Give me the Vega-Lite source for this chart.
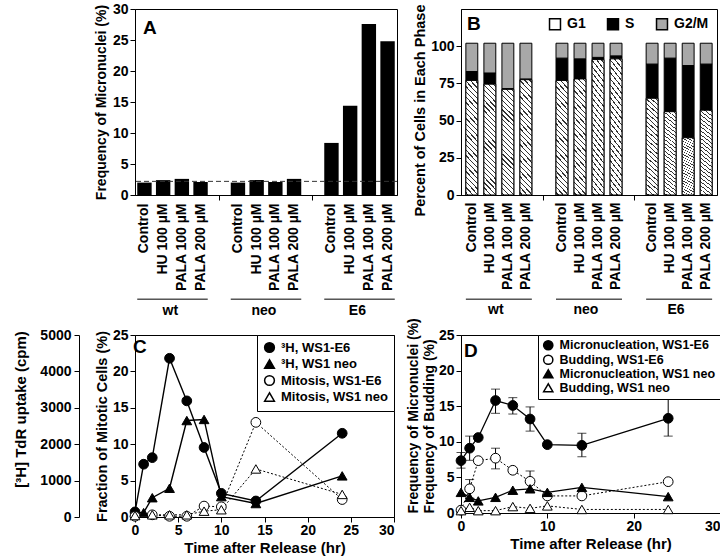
{
  "$schema": "https://vega.github.io/schema/vega-lite/v6.json",
  "background": "white",
  "padding": {"left": 13, "top": 1, "right": 0, "bottom": 0},
  "config": {
    "font": "Liberation Sans",
    "view": {"stroke": "black", "strokeWidth": 1},
    "axis": {"grid": false, "labelOverlap": false, "domainColor": "black", "tickColor": "black", "labelColor": "black", "titleColor": "black", "labelFont": "Liberation Sans", "titleFont": "Liberation Sans", "labelFontWeight": "bold", "titleFontWeight": "bold", "labelFontSize": 14, "titleFontSize": 14.5, "tickSize": 5, "labelPadding": 2},
    "legend": {"labelFont": "Liberation Sans", "labelFontWeight": "bold", "labelColor": "black"},
    "title": {"font": "Liberation Sans", "fontWeight": "bold", "fontSize": 19, "color": "black", "anchor": "start", "frame": "group"}
  },
  "datasets": {
    "phases": [
      {"cat": "wt|Control", "phase": "G1", "pct": 77}, {"cat": "wt|Control", "phase": "S", "pct": 6}, {"cat": "wt|Control", "phase": "G2/M", "pct": 19},
      {"cat": "wt|HU 100 µM", "phase": "G1", "pct": 74.5}, {"cat": "wt|HU 100 µM", "phase": "S", "pct": 7.5}, {"cat": "wt|HU 100 µM", "phase": "G2/M", "pct": 20},
      {"cat": "wt|PALA 100 µM", "phase": "G1", "pct": 71}, {"cat": "wt|PALA 100 µM", "phase": "S", "pct": 0.5}, {"cat": "wt|PALA 100 µM", "phase": "G2/M", "pct": 30.5},
      {"cat": "wt|PALA 200 µM", "phase": "G1", "pct": 77.5}, {"cat": "wt|PALA 200 µM", "phase": "S", "pct": 0.5}, {"cat": "wt|PALA 200 µM", "phase": "G2/M", "pct": 24},
      {"cat": "neo|Control", "phase": "G1", "pct": 77}, {"cat": "neo|Control", "phase": "S", "pct": 15}, {"cat": "neo|Control", "phase": "G2/M", "pct": 10},
      {"cat": "neo|HU 100 µM", "phase": "G1", "pct": 78}, {"cat": "neo|HU 100 µM", "phase": "S", "pct": 13.5}, {"cat": "neo|HU 100 µM", "phase": "G2/M", "pct": 10.5},
      {"cat": "neo|PALA 100 µM", "phase": "G1", "pct": 91}, {"cat": "neo|PALA 100 µM", "phase": "S", "pct": 1.5}, {"cat": "neo|PALA 100 µM", "phase": "G2/M", "pct": 9.5},
      {"cat": "neo|PALA 200 µM", "phase": "G1", "pct": 91.5}, {"cat": "neo|PALA 200 µM", "phase": "S", "pct": 2}, {"cat": "neo|PALA 200 µM", "phase": "G2/M", "pct": 8.5},
      {"cat": "E6|Control", "phase": "G1", "pct": 65}, {"cat": "E6|Control", "phase": "S", "pct": 23}, {"cat": "E6|Control", "phase": "G2/M", "pct": 14},
      {"cat": "E6|HU 100 µM", "phase": "G1", "pct": 56}, {"cat": "E6|HU 100 µM", "phase": "S", "pct": 36}, {"cat": "E6|HU 100 µM", "phase": "G2/M", "pct": 10},
      {"cat": "E6|PALA 100 µM", "phase": "G1", "pct": 38.5}, {"cat": "E6|PALA 100 µM", "phase": "S", "pct": 48.5}, {"cat": "E6|PALA 100 µM", "phase": "G2/M", "pct": 15},
      {"cat": "E6|PALA 200 µM", "phase": "G1", "pct": 57}, {"cat": "E6|PALA 200 µM", "phase": "S", "pct": 31}, {"cat": "E6|PALA 200 µM", "phase": "G2/M", "pct": 14}
    ],
    "groups": [
      {"group": "wt", "first": "wt|Control", "mid": "wt|HU 100 µM", "last": "wt|PALA 200 µM"},
      {"group": "neo", "first": "neo|Control", "mid": "neo|HU 100 µM", "last": "neo|PALA 200 µM"},
      {"group": "E6", "first": "E6|Control", "mid": "E6|HU 100 µM", "last": "E6|PALA 200 µM"}
    ]
  },
  "columns": 2,
  "bounds": "flush",
  "spacing": {"row": 140, "column": 64},
  "resolve": {
    "scale": {"fill": "independent", "shape": "independent", "x": "independent", "y": "independent"},
    "legend": {"fill": "independent", "shape": "independent"}
  },
  "concat": [
    {
      "width": 262, "height": 186,
      "title": {"text": "A", "offset": -36, "dx": 8},
      "layer": [
        {
          "data": {"values": [
            {"group": "wt", "cat": "wt|Control", "value": 2.0},
            {"group": "wt", "cat": "wt|HU 100 µM", "value": 2.4},
            {"group": "wt", "cat": "wt|PALA 100 µM", "value": 2.6},
            {"group": "wt", "cat": "wt|PALA 200 µM", "value": 2.1},
            {"group": "neo", "cat": "neo|Control", "value": 2.0},
            {"group": "neo", "cat": "neo|HU 100 µM", "value": 2.4},
            {"group": "neo", "cat": "neo|PALA 100 µM", "value": 2.1},
            {"group": "neo", "cat": "neo|PALA 200 µM", "value": 2.6},
            {"group": "E6", "cat": "E6|Control", "value": 8.4},
            {"group": "E6", "cat": "E6|HU 100 µM", "value": 14.4},
            {"group": "E6", "cat": "E6|PALA 100 µM", "value": 27.6},
            {"group": "E6", "cat": "E6|PALA 200 µM", "value": 24.8}
          ]},
          "mark": {"type": "bar", "color": "black"},
          "encoding": {
            "x": {"field": "cat", "type": "nominal", "title": null,
              "scale": {"domain": ["wt|Control", "wt|HU 100 µM", "wt|PALA 100 µM", "wt|PALA 200 µM", "gap1", "neo|Control", "neo|HU 100 µM", "neo|PALA 100 µM", "neo|PALA 200 µM", "gap2", "E6|Control", "E6|HU 100 µM", "E6|PALA 100 µM", "E6|PALA 200 µM"], "paddingInner": 0.23, "paddingOuter": 0.12},
              "axis": {"labelAngle": 270, "labelPadding": 3, "labelExpr": "indexof(datum.value, 'gap') === 0 ? '' : split(datum.value, '|')[1]", "tickOpacity": {"condition": {"test": "indexof(datum.value, 'gap') === 0", "value": 1}, "value": 0}}},
            "y": {"field": "value", "type": "quantitative", "scale": {"domain": [0, 30], "nice": false},
              "axis": {"values": [0, 5, 10, 15, 20, 25, 30], "tickCount": 20, "labelOverlap": false, "title": "Frequency of Micronuclei (%)", "titleFontSize": 14, "titlePadding": 4}}
          }
        },
        {
          "data": {"values": [{}]},
          "mark": {"type": "rule", "strokeDash": [5, 3], "color": "#333", "strokeWidth": 1},
          "encoding": {"y": {"datum": 2.2}}
        },
        {
          "data": {"name": "groups"},
          "layer": [
            {
              "mark": {"type": "rule", "color": "black", "strokeWidth": 1},
              "encoding": {
                "x": {"field": "first", "type": "nominal", "bandPosition": 0},
                "x2": {"field": "last", "bandPosition": 1},
                "y": {"datum": -16.8}
              }
            },
            {
              "mark": {"type": "text", "fontSize": 14, "fontWeight": "bold", "baseline": "middle", "color": "black"},
              "encoding": {
                "x": {"field": "mid", "type": "nominal", "bandPosition": 1},
                "y": {"datum": -18.7},
                "text": {"field": "group"}
              }
            }
          ]
        }
      ]
    },
    {
      "width": 256, "height": 186,
      "title": {"text": "B", "offset": -30, "dx": 6},
      "layer": [
        {
          "data": {"name": "phases"},
          "transform": [{"calculate": "indexof(['G1', 'S', 'G2/M'], datum.phase)", "as": "ord"}],
          "mark": {"type": "bar", "stroke": "black", "strokeWidth": 1},
          "encoding": {
            "x": {"field": "cat", "type": "nominal", "title": null,
              "scale": {"domain": ["wt|Control", "wt|HU 100 µM", "wt|PALA 100 µM", "wt|PALA 200 µM", "gap1", "neo|Control", "neo|HU 100 µM", "neo|PALA 100 µM", "neo|PALA 200 µM", "gap2", "E6|Control", "E6|HU 100 µM", "E6|PALA 100 µM", "E6|PALA 200 µM"], "paddingInner": 0.34, "paddingOuter": 0.27},
              "axis": {"labelAngle": 270, "labelPadding": 2, "labelExpr": "indexof(datum.value, 'gap') === 0 ? '' : split(datum.value, '|')[1]", "tickOpacity": {"condition": {"test": "indexof(datum.value, 'gap') === 0", "value": 1}, "value": 0}}},
            "y": {"field": "pct", "type": "quantitative", "stack": "zero", "scale": {"domain": [0, 125], "nice": false},
              "axis": {"values": [0, 25, 50, 75, 100], "tickCount": 20, "labelOverlap": false, "title": "Percent of Cells in Each Phase", "titleFontSize": 14.5, "titleY": 101, "titlePadding": 3}},
            "fill": {"field": "phase", "type": "nominal",
              "scale": {"domain": ["G1", "S", "G2/M"], "range": ["white", "black", "#a8a8a8"]},
              "legend": {"title": null, "orient": "top-right", "direction": "horizontal", "offset": 8, "symbolType": "square", "symbolSize": 120, "labelFontSize": 14, "labelOffset": 5, "columnPadding": 18,
                "encode": {"symbols": {"update": {"stroke": {"value": "black"}, "strokeWidth": {"value": 1}}}}}},
            "order": {"field": "ord", "type": "quantitative"}
          }
        },
        {
          "data": {"name": "phases"},
          "transform": [{"filter": "datum.phase === 'G1'"}],
          "mark": {"type": "bar", "stroke": "black", "strokeWidth": 1,
            "fill": {"gradient": "linear", "x1": 0, "y1": 1, "x2": 0.122, "y2": -0.0976, "stops": [
              {"offset": 0, "color": "white"},
              {"offset": 0.0146, "color": "white"}, {"offset": 0.0146, "color": "#333"}, {"offset": 0.0250, "color": "#333"}, {"offset": 0.0250, "color": "white"},
              {"offset": 0.0563, "color": "white"}, {"offset": 0.0563, "color": "#333"}, {"offset": 0.0667, "color": "#333"}, {"offset": 0.0667, "color": "white"},
              {"offset": 0.0979, "color": "white"}, {"offset": 0.0979, "color": "#333"}, {"offset": 0.1083, "color": "#333"}, {"offset": 0.1083, "color": "white"},
              {"offset": 0.1396, "color": "white"}, {"offset": 0.1396, "color": "#333"}, {"offset": 0.1500, "color": "#333"}, {"offset": 0.1500, "color": "white"},
              {"offset": 0.1813, "color": "white"}, {"offset": 0.1813, "color": "#333"}, {"offset": 0.1917, "color": "#333"}, {"offset": 0.1917, "color": "white"},
              {"offset": 0.2229, "color": "white"}, {"offset": 0.2229, "color": "#333"}, {"offset": 0.2333, "color": "#333"}, {"offset": 0.2333, "color": "white"},
              {"offset": 0.2646, "color": "white"}, {"offset": 0.2646, "color": "#333"}, {"offset": 0.2750, "color": "#333"}, {"offset": 0.2750, "color": "white"},
              {"offset": 0.3063, "color": "white"}, {"offset": 0.3063, "color": "#333"}, {"offset": 0.3167, "color": "#333"}, {"offset": 0.3167, "color": "white"},
              {"offset": 0.3479, "color": "white"}, {"offset": 0.3479, "color": "#333"}, {"offset": 0.3583, "color": "#333"}, {"offset": 0.3583, "color": "white"},
              {"offset": 0.3896, "color": "white"}, {"offset": 0.3896, "color": "#333"}, {"offset": 0.4000, "color": "#333"}, {"offset": 0.4000, "color": "white"},
              {"offset": 0.4313, "color": "white"}, {"offset": 0.4313, "color": "#333"}, {"offset": 0.4417, "color": "#333"}, {"offset": 0.4417, "color": "white"},
              {"offset": 0.4729, "color": "white"}, {"offset": 0.4729, "color": "#333"}, {"offset": 0.4833, "color": "#333"}, {"offset": 0.4833, "color": "white"},
              {"offset": 0.5146, "color": "white"}, {"offset": 0.5146, "color": "#333"}, {"offset": 0.5250, "color": "#333"}, {"offset": 0.5250, "color": "white"},
              {"offset": 0.5563, "color": "white"}, {"offset": 0.5563, "color": "#333"}, {"offset": 0.5667, "color": "#333"}, {"offset": 0.5667, "color": "white"},
              {"offset": 0.5979, "color": "white"}, {"offset": 0.5979, "color": "#333"}, {"offset": 0.6083, "color": "#333"}, {"offset": 0.6083, "color": "white"},
              {"offset": 0.6396, "color": "white"}, {"offset": 0.6396, "color": "#333"}, {"offset": 0.6500, "color": "#333"}, {"offset": 0.6500, "color": "white"},
              {"offset": 0.6813, "color": "white"}, {"offset": 0.6813, "color": "#333"}, {"offset": 0.6917, "color": "#333"}, {"offset": 0.6917, "color": "white"},
              {"offset": 0.7229, "color": "white"}, {"offset": 0.7229, "color": "#333"}, {"offset": 0.7333, "color": "#333"}, {"offset": 0.7333, "color": "white"},
              {"offset": 0.7646, "color": "white"}, {"offset": 0.7646, "color": "#333"}, {"offset": 0.7750, "color": "#333"}, {"offset": 0.7750, "color": "white"},
              {"offset": 0.8063, "color": "white"}, {"offset": 0.8063, "color": "#333"}, {"offset": 0.8167, "color": "#333"}, {"offset": 0.8167, "color": "white"},
              {"offset": 0.8479, "color": "white"}, {"offset": 0.8479, "color": "#333"}, {"offset": 0.8583, "color": "#333"}, {"offset": 0.8583, "color": "white"},
              {"offset": 0.8896, "color": "white"}, {"offset": 0.8896, "color": "#333"}, {"offset": 0.9000, "color": "#333"}, {"offset": 0.9000, "color": "white"},
              {"offset": 0.9313, "color": "white"}, {"offset": 0.9313, "color": "#333"}, {"offset": 0.9417, "color": "#333"}, {"offset": 0.9417, "color": "white"},
              {"offset": 0.9729, "color": "white"}, {"offset": 0.9729, "color": "#333"}, {"offset": 0.9833, "color": "#333"}, {"offset": 0.9833, "color": "white"},
              {"offset": 1, "color": "white"}
            ]}},
          "encoding": {
            "x": {"field": "cat", "type": "nominal"},
            "y": {"field": "pct", "type": "quantitative", "stack": null}
          }
        },
        {
          "data": {"name": "groups"},
          "layer": [
            {
              "mark": {"type": "rule", "color": "black", "strokeWidth": 1},
              "encoding": {
                "x": {"field": "first", "type": "nominal", "bandPosition": 0},
                "x2": {"field": "last", "bandPosition": 1},
                "y": {"datum": -70}
              }
            },
            {
              "mark": {"type": "text", "fontSize": 14, "fontWeight": "bold", "baseline": "middle", "color": "black"},
              "encoding": {
                "x": {"field": "mid", "type": "nominal", "bandPosition": 1},
                "y": {"datum": -77},
                "text": {"field": "group"}
              }
            }
          ]
        }
      ]
    },
    {
      "width": 259, "height": 182,
      "title": {"text": "C", "offset": -29, "dx": -2},
      "layer": [
        {
          "data": {"values": [
            {"series": "³H, WS1-E6", "t": 0, "cpm": 140},
            {"series": "³H, WS1-E6", "t": 1, "cpm": 1450},
            {"series": "³H, WS1-E6", "t": 2, "cpm": 1630},
            {"series": "³H, WS1-E6", "t": 4, "cpm": 4360},
            {"series": "³H, WS1-E6", "t": 6, "cpm": 3190},
            {"series": "³H, WS1-E6", "t": 8, "cpm": 1910},
            {"series": "³H, WS1-E6", "t": 10, "cpm": 650},
            {"series": "³H, WS1-E6", "t": 14, "cpm": 440},
            {"series": "³H, WS1-E6", "t": 24, "cpm": 2300},
            {"series": "³H, WS1 neo", "t": 0, "cpm": 120},
            {"series": "³H, WS1 neo", "t": 1, "cpm": 120},
            {"series": "³H, WS1 neo", "t": 2, "cpm": 530},
            {"series": "³H, WS1 neo", "t": 4, "cpm": 790},
            {"series": "³H, WS1 neo", "t": 6, "cpm": 2650},
            {"series": "³H, WS1 neo", "t": 8, "cpm": 2680},
            {"series": "³H, WS1 neo", "t": 10, "cpm": 560},
            {"series": "³H, WS1 neo", "t": 14, "cpm": 370},
            {"series": "³H, WS1 neo", "t": 24, "cpm": 1130}
          ]},
          "layer": [
            {
              "mark": {"type": "line", "color": "black", "strokeWidth": 1.4},
              "encoding": {
                "x": {"field": "t", "type": "quantitative"},
                "y": {"field": "cpm", "type": "quantitative"},
                "detail": {"field": "series"}
              }
            },
            {
              "mark": {"type": "point", "filled": true, "stroke": "black", "strokeWidth": 1, "size": 95, "opacity": 1},
              "encoding": {
                "x": {"field": "t", "type": "quantitative", "title": "Time after Release (hr)", "scale": {"domain": [0, 30], "nice": false},
                  "axis": {"values": [0, 5, 10, 15, 20, 25, 30], "tickCount": 20, "labelPadding": 1, "titlePadding": 3, "titleFontSize": 15, "labelAlign": {"condition": {"test": "datum.value === 30", "value": "right"}, "value": "center"}}},
                "y": {"field": "cpm", "type": "quantitative", "scale": {"domain": [0, 5000], "nice": false},
                  "axis": {"orient": "left", "offset": 56, "format": "d", "values": [0, 1000, 2000, 3000, 4000, 5000], "tickCount": 20, "labelOverlap": false, "labelPadding": 3, "title": "[³H] TdR uptake (cpm)", "titleY": 74, "titlePadding": 11, "titleFontSize": 15}},
                "shape": {"field": "series", "type": "nominal",
                  "scale": {"domain": ["³H, WS1-E6", "³H, WS1 neo", "Mitosis, WS1-E6", "Mitosis, WS1 neo"], "range": ["circle", "triangle-up", "circle", "triangle-up"]},
                  "legend": {"title": null, "orient": "top-right", "offset": 0, "strokeColor": "black", "fillColor": "white", "padding": 6, "labelFontSize": 13, "symbolSize": 95, "rowPadding": 0.5, "labelOffset": 5,
                    "encode": {"symbols": {"update": {"stroke": {"value": "black"}, "strokeWidth": {"value": 1}}}}}},
                "fill": {"field": "series", "type": "nominal",
                  "scale": {"domain": ["³H, WS1-E6", "³H, WS1 neo", "Mitosis, WS1-E6", "Mitosis, WS1 neo"], "range": ["black", "black", "white", "white"]},
                  "legend": {"title": null, "orient": "top-right", "offset": 0, "strokeColor": "black", "fillColor": "white", "padding": 6, "labelFontSize": 13, "symbolSize": 95, "rowPadding": 0.5, "labelOffset": 5,
                    "encode": {"symbols": {"update": {"stroke": {"value": "black"}, "strokeWidth": {"value": 1}}}}}}
              }
            }
          ]
        },
        {
          "data": {"values": [
            {"series": "Mitosis, WS1-E6", "t": 0, "pct": 0.1},
            {"series": "Mitosis, WS1-E6", "t": 2, "pct": 0.3},
            {"series": "Mitosis, WS1-E6", "t": 4, "pct": 0.1},
            {"series": "Mitosis, WS1-E6", "t": 6, "pct": 0.1},
            {"series": "Mitosis, WS1-E6", "t": 8, "pct": 1.5},
            {"series": "Mitosis, WS1-E6", "t": 10, "pct": 1.4},
            {"series": "Mitosis, WS1-E6", "t": 14, "pct": 13.0},
            {"series": "Mitosis, WS1-E6", "t": 24, "pct": 2.4},
            {"series": "Mitosis, WS1 neo", "t": 0, "pct": 0.2},
            {"series": "Mitosis, WS1 neo", "t": 2, "pct": 0.3},
            {"series": "Mitosis, WS1 neo", "t": 4, "pct": 0.3},
            {"series": "Mitosis, WS1 neo", "t": 6, "pct": 0.3},
            {"series": "Mitosis, WS1 neo", "t": 8, "pct": 0.8},
            {"series": "Mitosis, WS1 neo", "t": 10, "pct": 1.0},
            {"series": "Mitosis, WS1 neo", "t": 14, "pct": 6.6},
            {"series": "Mitosis, WS1 neo", "t": 24, "pct": 3.1}
          ]},
          "layer": [
            {
              "mark": {"type": "line", "color": "black", "strokeWidth": 1, "strokeDash": [2, 2]},
              "encoding": {
                "x": {"field": "t", "type": "quantitative"},
                "y": {"field": "pct", "type": "quantitative"},
                "detail": {"field": "series"}
              }
            },
            {
              "mark": {"type": "point", "filled": true, "stroke": "black", "strokeWidth": 1, "size": 95, "opacity": 1},
              "encoding": {
                "x": {"field": "t", "type": "quantitative"},
                "y": {"field": "pct", "type": "quantitative", "scale": {"domain": [0, 25], "nice": false},
                  "axis": {"orient": "left", "values": [0, 5, 10, 15, 20, 25], "tickCount": 20, "labelOverlap": false, "title": "Fraction of Mitotic Cells (%)", "titlePadding": 3, "titleFontSize": 14.5}},
                "shape": {"field": "series", "type": "nominal"},
                "fill": {"field": "series", "type": "nominal"}
              }
            }
          ]
        }
      ],
      "resolve": {"scale": {"y": "independent"}, "axis": {"y": "independent"}}
    },
    {
      "width": 259, "height": 178,
      "title": {"text": "D", "offset": -43, "dx": 3},
      "layer": [
        {
          "data": {"values": [
            {"series": "Micronucleation, WS1-E6", "t": 0, "lo": 6.3, "hi": 8.5},
            {"series": "Micronucleation, WS1-E6", "t": 1, "lo": 7.4, "hi": 10.8},
            {"series": "Micronucleation, WS1-E6", "t": 4, "lo": 14.0, "hi": 17.4},
            {"series": "Micronucleation, WS1-E6", "t": 6, "lo": 13.9, "hi": 16.2},
            {"series": "Micronucleation, WS1-E6", "t": 8, "lo": 11.5, "hi": 14.9},
            {"series": "Micronucleation, WS1-E6", "t": 14, "lo": 7.9, "hi": 11.2},
            {"series": "Micronucleation, WS1-E6", "t": 24, "lo": 10.8, "hi": 16.0},
            {"series": "Budding, WS1-E6", "t": 1, "lo": 2.1, "hi": 4.7},
            {"series": "Budding, WS1-E6", "t": 4, "lo": 6.2, "hi": 9.1},
            {"series": "Budding, WS1-E6", "t": 8, "lo": 2.9, "hi": 5.9}
          ]},
          "layer": [
            {
              "mark": {"type": "rule", "color": "black", "strokeWidth": 1},
              "encoding": {
                "x": {"field": "t", "type": "quantitative"},
                "y": {"field": "lo", "type": "quantitative"},
                "y2": {"field": "hi"}
              }
            },
            {
              "mark": {"type": "tick", "orient": "horizontal", "color": "black", "size": 9, "thickness": 1},
              "encoding": {
                "x": {"field": "t", "type": "quantitative"},
                "y": {"field": "hi", "type": "quantitative"}
              }
            },
            {
              "mark": {"type": "tick", "orient": "horizontal", "color": "black", "size": 9, "thickness": 1},
              "encoding": {
                "x": {"field": "t", "type": "quantitative"},
                "y": {"field": "lo", "type": "quantitative"}
              }
            }
          ]
        },
        {
          "data": {"values": [
            {"series": "Micronucleation, WS1-E6", "t": 0, "pct": 7.35},
            {"series": "Micronucleation, WS1-E6", "t": 1, "pct": 9.1},
            {"series": "Micronucleation, WS1-E6", "t": 2, "pct": 10.6},
            {"series": "Micronucleation, WS1-E6", "t": 4, "pct": 15.8},
            {"series": "Micronucleation, WS1-E6", "t": 6, "pct": 15.1},
            {"series": "Micronucleation, WS1-E6", "t": 8, "pct": 13.2},
            {"series": "Micronucleation, WS1-E6", "t": 10, "pct": 9.6},
            {"series": "Micronucleation, WS1-E6", "t": 14, "pct": 9.5},
            {"series": "Micronucleation, WS1-E6", "t": 24, "pct": 13.3},
            {"series": "Budding, WS1-E6", "t": 0, "pct": 0.4},
            {"series": "Budding, WS1-E6", "t": 1, "pct": 3.4},
            {"series": "Budding, WS1-E6", "t": 2, "pct": 7.35},
            {"series": "Budding, WS1-E6", "t": 4, "pct": 7.7},
            {"series": "Budding, WS1-E6", "t": 6, "pct": 6.0},
            {"series": "Budding, WS1-E6", "t": 8, "pct": 4.45},
            {"series": "Budding, WS1-E6", "t": 10, "pct": 2.4},
            {"series": "Budding, WS1-E6", "t": 14, "pct": 2.4},
            {"series": "Budding, WS1-E6", "t": 24, "pct": 4.4},
            {"series": "Micronucleation, WS1 neo", "t": 0, "pct": 2.9},
            {"series": "Micronucleation, WS1 neo", "t": 1, "pct": 2.2},
            {"series": "Micronucleation, WS1 neo", "t": 2, "pct": 1.7},
            {"series": "Micronucleation, WS1 neo", "t": 4, "pct": 2.2},
            {"series": "Micronucleation, WS1 neo", "t": 6, "pct": 3.2},
            {"series": "Micronucleation, WS1 neo", "t": 8, "pct": 3.4},
            {"series": "Micronucleation, WS1 neo", "t": 10, "pct": 2.9},
            {"series": "Micronucleation, WS1 neo", "t": 14, "pct": 3.6},
            {"series": "Micronucleation, WS1 neo", "t": 24, "pct": 2.3},
            {"series": "Budding, WS1 neo", "t": 0, "pct": 0.33},
            {"series": "Budding, WS1 neo", "t": 1, "pct": 0.8},
            {"series": "Budding, WS1 neo", "t": 2, "pct": 0.33},
            {"series": "Budding, WS1 neo", "t": 4, "pct": 0.33},
            {"series": "Budding, WS1 neo", "t": 6, "pct": 0.9},
            {"series": "Budding, WS1 neo", "t": 8, "pct": 0.65},
            {"series": "Budding, WS1 neo", "t": 10, "pct": 1.0},
            {"series": "Budding, WS1 neo", "t": 14, "pct": 0.5},
            {"series": "Budding, WS1 neo", "t": 24, "pct": 0.5}
          ]},
          "layer": [
            {
              "transform": [{"filter": "indexof(datum.series, 'Micronucleation') === 0"}],
              "mark": {"type": "line", "color": "black", "strokeWidth": 1.3},
              "encoding": {
                "x": {"field": "t", "type": "quantitative"},
                "y": {"field": "pct", "type": "quantitative"},
                "detail": {"field": "series"}
              }
            },
            {
              "transform": [{"filter": "indexof(datum.series, 'Budding') === 0"}],
              "mark": {"type": "line", "color": "black", "strokeWidth": 1, "strokeDash": [2, 2]},
              "encoding": {
                "x": {"field": "t", "type": "quantitative"},
                "y": {"field": "pct", "type": "quantitative"},
                "detail": {"field": "series"}
              }
            },
            {
              "mark": {"type": "point", "filled": true, "stroke": "black", "strokeWidth": 1, "size": 95, "opacity": 1},
              "encoding": {
                "x": {"field": "t", "type": "quantitative"},
                "y": {"field": "pct", "type": "quantitative"},
                "shape": {"field": "series", "type": "nominal",
                  "scale": {"domain": ["Micronucleation, WS1-E6", "Budding, WS1-E6", "Micronucleation, WS1 neo", "Budding, WS1 neo"], "range": ["circle", "circle", "triangle-up", "triangle-up"]},
                  "legend": {"title": null, "orient": "top-right", "offset": 0, "strokeColor": "black", "fillColor": "white", "padding": 4, "labelFontSize": 12.5, "symbolSize": 85, "rowPadding": -1.5, "labelOffset": 5,
                    "encode": {"symbols": {"update": {"stroke": {"value": "black"}, "strokeWidth": {"value": 1}}}}}},
                "fill": {"field": "series", "type": "nominal",
                  "scale": {"domain": ["Micronucleation, WS1-E6", "Budding, WS1-E6", "Micronucleation, WS1 neo", "Budding, WS1 neo"], "range": ["black", "white", "black", "white"]},
                  "legend": {"title": null, "orient": "top-right", "offset": 0, "strokeColor": "black", "fillColor": "white", "padding": 4, "labelFontSize": 12.5, "symbolSize": 85, "rowPadding": -1.5, "labelOffset": 5,
                    "encode": {"symbols": {"update": {"stroke": {"value": "black"}, "strokeWidth": {"value": 1}}}}}}
              }
            }
          ]
        }
      ],
      "encoding": {
        "x": {"type": "quantitative", "title": "Time after Release (hr)", "scale": {"domain": [0, 30], "nice": false},
          "axis": {"values": [0, 10, 20, 30], "tickCount": 20, "labelPadding": 1, "titlePadding": 3, "titleFontSize": 15, "labelAlign": {"condition": {"test": "datum.value === 30", "value": "right"}, "value": "center"}}},
        "y": {"type": "quantitative", "scale": {"domain": [0, 25], "nice": false},
          "axis": {"values": [0, 5, 10, 15, 20, 25], "tickCount": 20, "labelOverlap": false, "title": ["Frequency of Micronuclei (%)", "Frequency of Budding (%)"], "titleAnchor": "start", "titleLineHeight": 16, "titlePadding": 2, "titleFontSize": 14}}
      }
    }
  ]
}
